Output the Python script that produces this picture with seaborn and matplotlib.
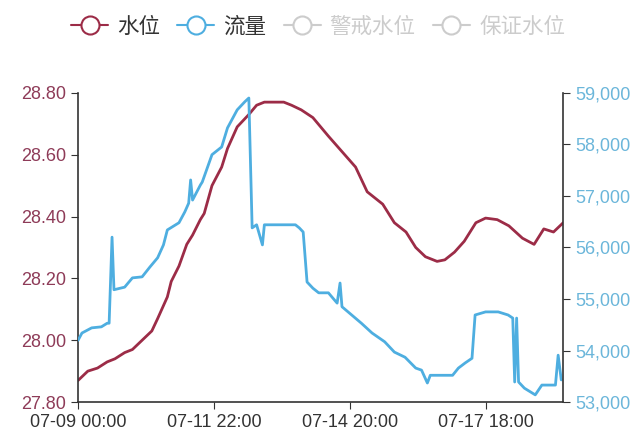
import pandas as pd
import numpy as np
import matplotlib
matplotlib.use("Agg")
import matplotlib.pyplot as plt
import matplotlib.dates as mdates
from matplotlib.lines import Line2D
from matplotlib.ticker import FuncFormatter, MultipleLocator
import seaborn as sns

# water level (m), hours after 07-09 00:00
level_hours = [0, 5, 10, 15, 19, 24, 28, 33, 38, 41, 46, 48, 52, 56, 59, 63, 65, 69,
               74, 77, 82, 88, 92, 96, 102, 106, 110, 115, 121, 125, 129, 136, 143,
               149, 157, 163, 169, 174, 179, 185, 189, 194, 199, 205, 210, 216, 222,
               229, 235, 240, 245, 250]
level_values = [27.87, 27.90, 27.91, 27.93, 27.94, 27.96, 27.97, 28.00, 28.03, 28.07,
                28.14, 28.19, 28.24, 28.31, 28.34, 28.39, 28.41, 28.50, 28.56, 28.62,
                28.69, 28.73, 28.76, 28.77, 28.77, 28.77, 28.76, 28.745, 28.72, 28.69,
                28.66, 28.61, 28.56, 28.48, 28.44, 28.38, 28.35, 28.30, 28.27, 28.255,
                28.26, 28.285, 28.32, 28.38, 28.395, 28.39, 28.37, 28.33, 28.31, 28.36,
                28.35, 28.38]

# discharge (m3/s)
flow_hours = [0, 2, 7, 12, 15, 16, 17.5, 18.5, 24, 28, 33, 37, 41, 44, 46, 52, 55, 57,
              58, 59, 63, 64, 69, 74, 77, 82, 86, 88, 89.7, 92, 95, 96, 112, 114, 116,
              118, 121, 124, 129, 133.5, 135, 136, 141, 146, 151.5, 158, 163, 168.5,
              174, 177, 180, 181.5, 186.6, 193, 196, 199.5, 203, 204.6, 210, 216.5,
              221.6, 224, 225, 226, 227, 230, 235.6, 239, 246, 247.4, 249]
flow_values = [54200, 54340, 54440, 54460, 54530, 54530, 56200, 55180, 55230, 55410,
               55430, 55620, 55800, 56050, 56340, 56480, 56690, 56860, 57310, 56920,
               57210, 57270, 57800, 57950, 58320, 58670, 58830, 58900, 56380, 56440,
               56050, 56440, 56440, 56380, 56300, 55330, 55210, 55120, 55120, 54920,
               55310, 54850, 54690, 54530, 54340, 54170, 53970, 53870, 53660, 53620,
               53370, 53520, 53520, 53520, 53660, 53760, 53850, 54690, 54750, 54750,
               54690, 54630, 53390, 54630, 53390, 53270, 53140, 53330, 53330, 53910,
               53430]

legend_names = ["水位", "流量", "警戒水位", "保证水位"]
tick_hours = [0, 70, 140, 210]

start = pd.Timestamp("2020-07-09 00:00")
df_level = pd.DataFrame({"time": start + pd.to_timedelta(level_hours, unit="h"),
                         "value": level_values})
df_flow = pd.DataFrame({"time": start + pd.to_timedelta(flow_hours, unit="h"),
                        "value": flow_values})

sns.set_style("ticks")
plt.rcParams["font.family"] = ["Liberation Sans", "Noto Sans CJK SC", "DejaVu Sans"]

red = "#9c2c47"
blue = "#4eaee0"
grey = "#cccccc"

fig = plt.figure(figsize=(6.4, 4.38), dpi=100)
ax = fig.add_axes([0.122, 0.082, 0.758, 0.706])
ax2 = ax.twinx()

sns.lineplot(data=df_level, x="time", y="value", ax=ax, color=red, linewidth=2)
sns.lineplot(data=df_flow, x="time", y="value", ax=ax2, color=blue, linewidth=2)

ax.set_xlim(start, start + pd.Timedelta(hours=250))
ax.set_ylim(27.8, 28.8)
ax2.set_ylim(53000, 59000)
ax.yaxis.set_major_locator(MultipleLocator(0.2))
ax.yaxis.set_major_formatter(FuncFormatter(lambda v, p: f"{v:.2f}"))
ax2.yaxis.set_major_locator(MultipleLocator(1000))
ax2.yaxis.set_major_formatter(FuncFormatter(lambda v, p: f"{v:,.0f}"))

ax.set_xticks([start + pd.Timedelta(hours=h) for h in tick_hours])
ax.xaxis.set_major_formatter(mdates.DateFormatter("%m-%d %H:%M"))

for a in (ax, ax2):
    a.set_xlabel("")
    a.set_ylabel("")
    a.spines["top"].set_visible(False)
    for s in ("left", "right", "bottom"):
        a.spines[s].set_color("#333333")
        a.spines[s].set_linewidth(1.2)
ax.spines["right"].set_visible(False)
ax2.spines["left"].set_visible(False)
ax2.spines["bottom"].set_visible(False)

ax.tick_params(axis="y", colors="#333333", labelcolor="#8e3b58", labelsize=13, length=5)
ax.tick_params(axis="x", colors="#333333", labelcolor="#333333", labelsize=13, length=5)
ax2.tick_params(axis="y", colors="#333333", labelcolor="#6bb6da", labelsize=13, length=5)

handles = []
for c in (red, blue, grey, grey):
    handles.append(Line2D([0], [0], color=c, linewidth=1.5, marker="o",
                          markersize=13, markerfacecolor="white",
                          markeredgecolor=c, markeredgewidth=1.5))
leg = fig.legend(handles, legend_names, loc="center", bbox_to_anchor=(0.497, 0.938),
                 ncol=4, frameon=False, fontsize=15.5, handlelength=1.72,
                 handletextpad=0.42, columnspacing=0.8)
for t, c in zip(leg.get_texts(), ["#333333", "#333333", grey, grey]):
    t.set_color(c)

fig.savefig("out.png", dpi=100)
